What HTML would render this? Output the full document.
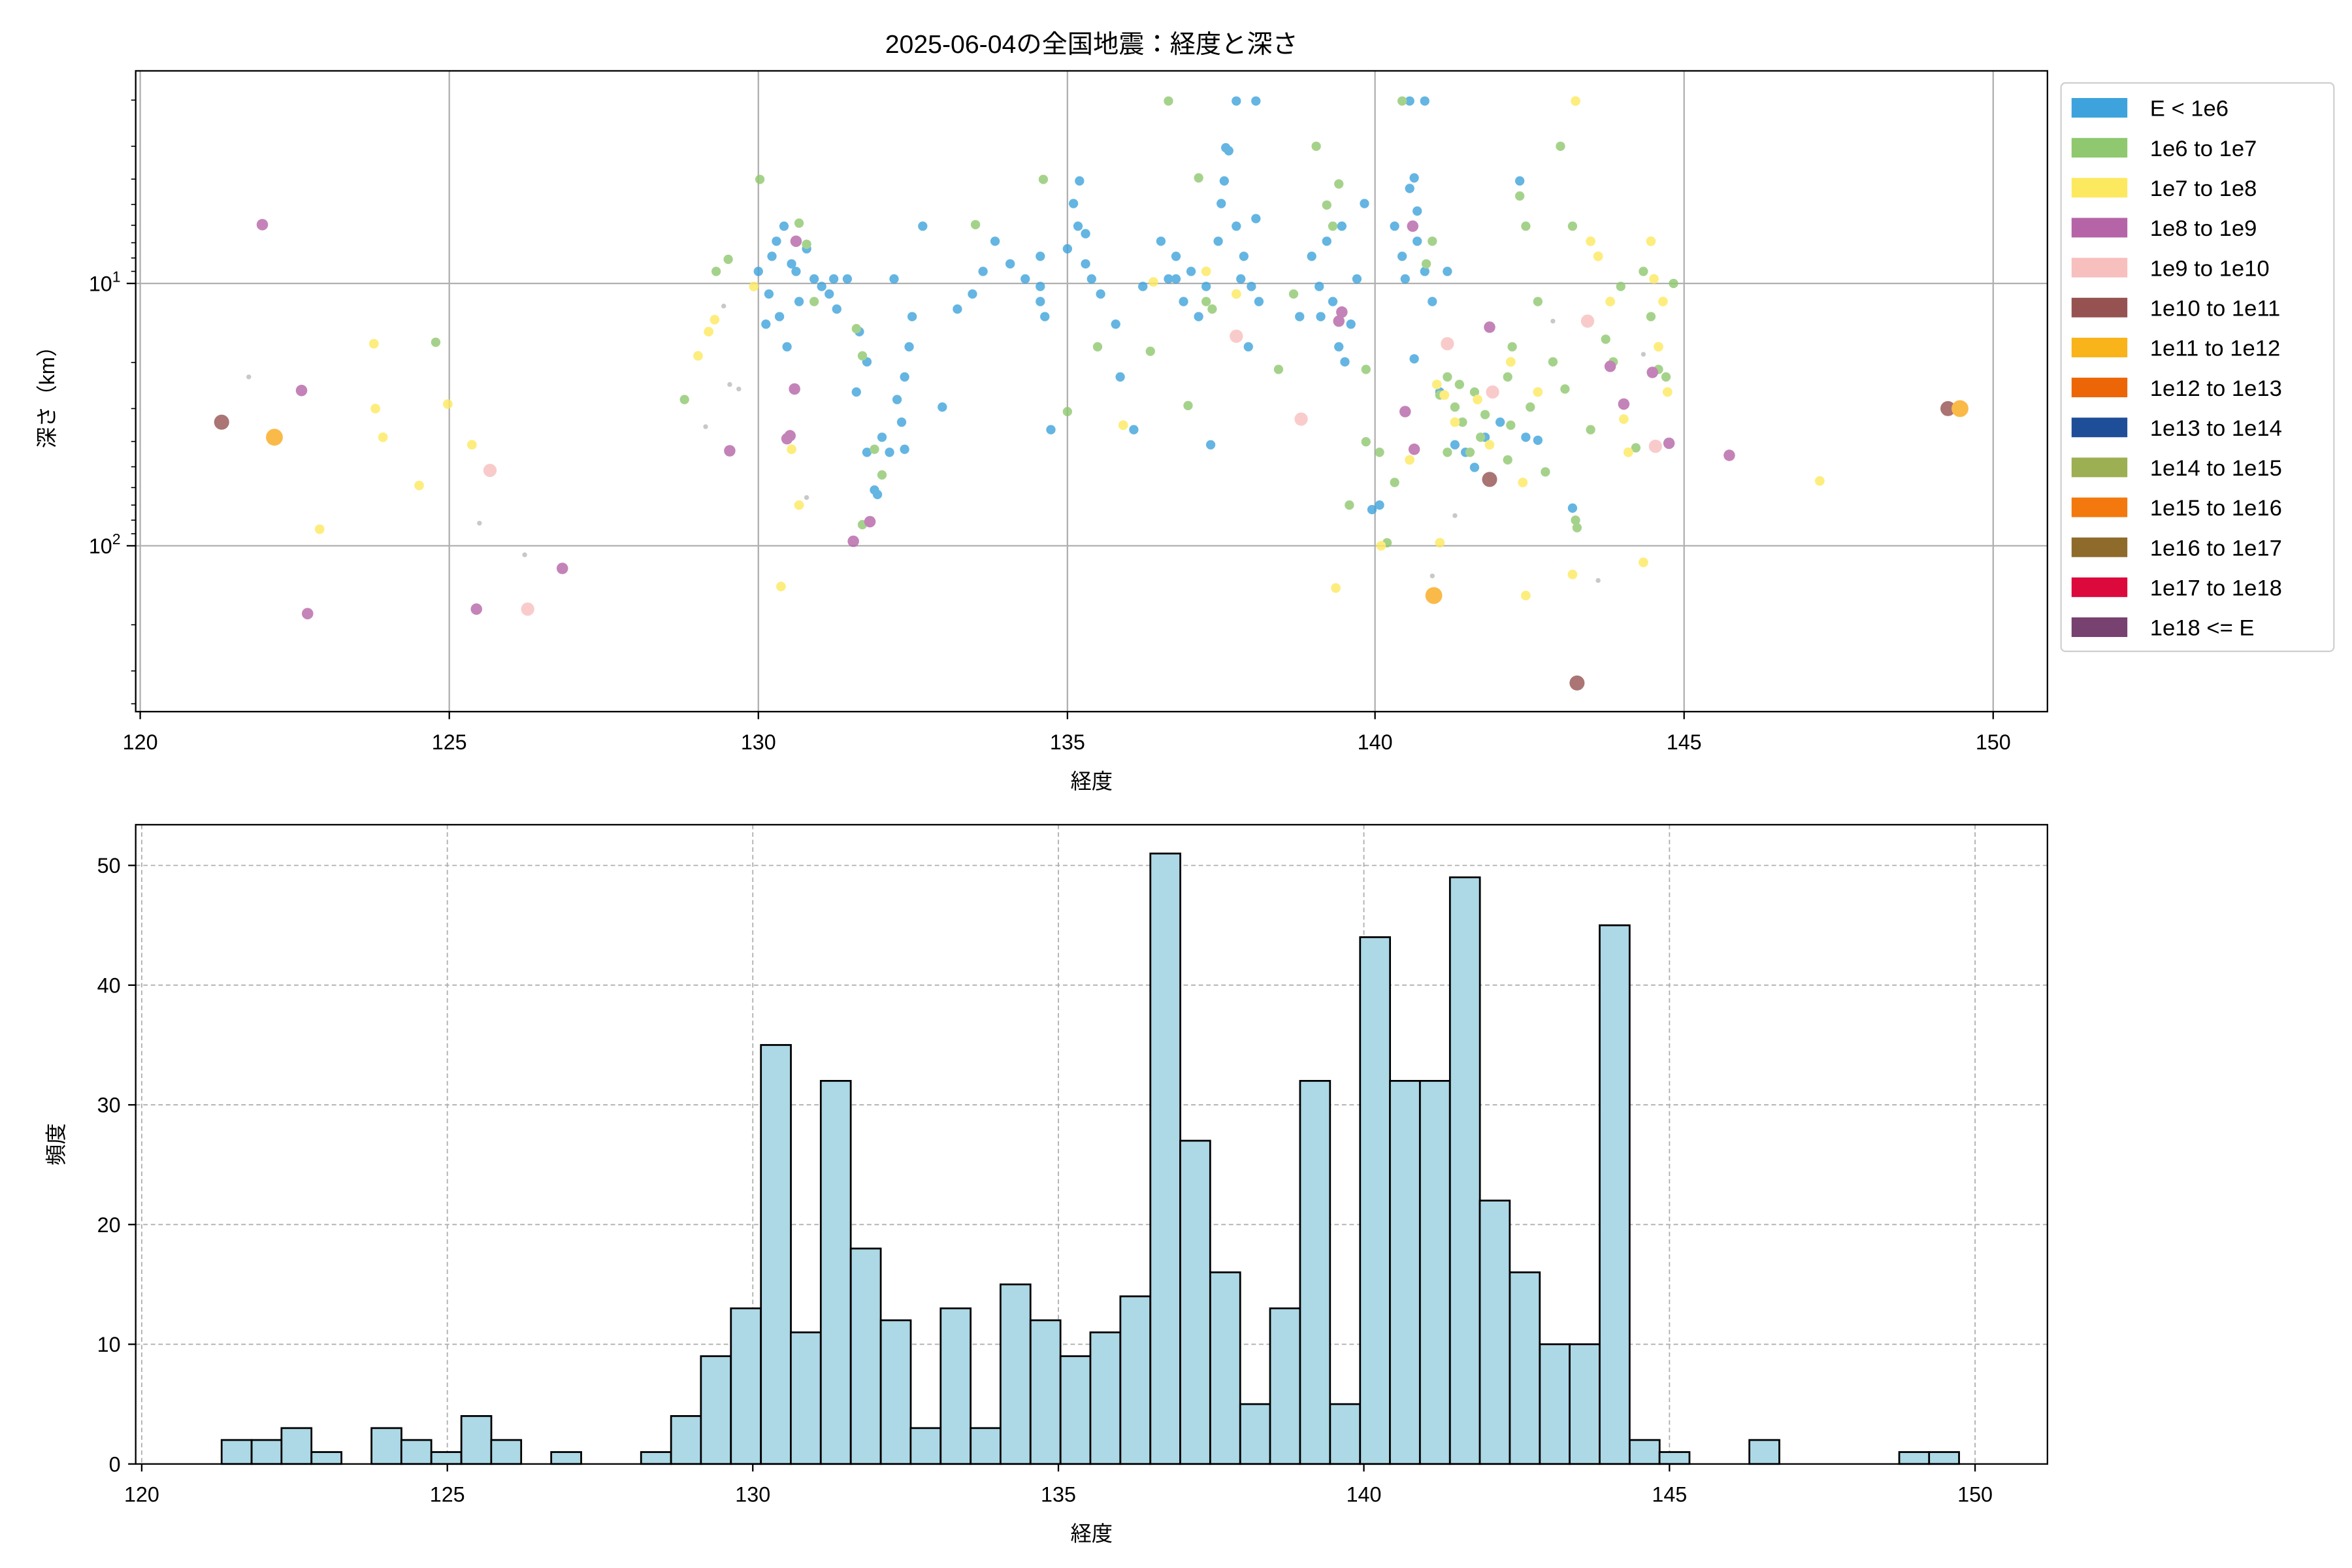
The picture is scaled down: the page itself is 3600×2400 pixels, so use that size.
<!DOCTYPE html>
<html><head><meta charset="utf-8"><style>
html,body{margin:0;padding:0;background:#fff}
svg{display:block}
text{font-family:"Liberation Sans","Noto Sans CJK JP",sans-serif;fill:#000}
</style></head><body>
<svg width="3600" height="2400" viewBox="0 0 1560 1040" xmlns="http://www.w3.org/2000/svg">
<rect width="1560" height="1040" fill="#fff"/>
<text x="724" y="35" font-size="17" text-anchor="middle">2025-06-04の全国地震：経度と深さ</text>
<g stroke="#b0b0b0" stroke-width="1">
<line x1="93" y1="47" x2="93" y2="472"/><line x1="298" y1="47" x2="298" y2="472"/><line x1="503" y1="47" x2="503" y2="472"/><line x1="708" y1="47" x2="708" y2="472"/><line x1="912" y1="47" x2="912" y2="472"/><line x1="1117" y1="47" x2="1117" y2="472"/><line x1="1322" y1="47" x2="1322" y2="472"/>
<line x1="90" y1="188" x2="1358" y2="188"/><line x1="90" y1="362" x2="1358" y2="362"/>
</g>
<g opacity="0.8">
<g fill="#bbbbbb">
<circle cx="165" cy="250" r="1.6"/><circle cx="318" cy="347" r="1.6"/><circle cx="348" cy="368" r="1.6"/><circle cx="484" cy="255" r="1.6"/><circle cx="490" cy="258" r="1.6"/><circle cx="480" cy="203" r="1.6"/><circle cx="535" cy="330" r="1.6"/><circle cx="468" cy="283" r="1.6"/><circle cx="950" cy="382" r="1.6"/><circle cx="965" cy="342" r="1.6"/><circle cx="1060" cy="385" r="1.6"/><circle cx="1030" cy="213" r="1.6"/><circle cx="1090" cy="235" r="1.6"/>
</g>
<g fill="#3ea3dc">
<circle cx="503" cy="180" r="3.1"/><circle cx="510" cy="195" r="3.1"/><circle cx="515" cy="160" r="3.1"/><circle cx="520" cy="150" r="3.1"/><circle cx="525" cy="175" r="3.1"/><circle cx="530" cy="200" r="3.1"/><circle cx="535" cy="165" r="3.1"/><circle cx="540" cy="185" r="3.1"/><circle cx="545" cy="190" r="3.1"/><circle cx="517" cy="210" r="3.1"/><circle cx="508" cy="215" r="3.1"/><circle cx="522" cy="230" r="3.1"/><circle cx="550" cy="195" r="3.1"/><circle cx="555" cy="205" r="3.1"/><circle cx="562" cy="185" r="3.1"/><circle cx="570" cy="220" r="3.1"/><circle cx="568" cy="260" r="3.1"/><circle cx="575" cy="300" r="3.1"/><circle cx="580" cy="325" r="3.1"/><circle cx="585" cy="290" r="3.1"/><circle cx="590" cy="300" r="3.1"/><circle cx="595" cy="265" r="3.1"/><circle cx="600" cy="250" r="3.1"/><circle cx="603" cy="230" r="3.1"/><circle cx="598" cy="280" r="3.1"/><circle cx="593" cy="185" r="3.1"/><circle cx="605" cy="210" r="3.1"/><circle cx="612" cy="150" r="3.1"/><circle cx="625" cy="270" r="3.1"/><circle cx="635" cy="205" r="3.1"/><circle cx="645" cy="195" r="3.1"/><circle cx="652" cy="180" r="3.1"/><circle cx="660" cy="160" r="3.1"/><circle cx="670" cy="175" r="3.1"/><circle cx="680" cy="185" r="3.1"/><circle cx="690" cy="200" r="3.1"/><circle cx="693" cy="210" r="3.1"/><circle cx="697" cy="285" r="3.1"/><circle cx="708" cy="165" r="3.1"/><circle cx="712" cy="135" r="3.1"/><circle cx="716" cy="120" r="3.1"/><circle cx="720" cy="175" r="3.1"/><circle cx="724" cy="185" r="3.1"/><circle cx="730" cy="195" r="3.1"/><circle cx="740" cy="215" r="3.1"/><circle cx="743" cy="250" r="3.1"/><circle cx="752" cy="285" r="3.1"/><circle cx="758" cy="190" r="3.1"/><circle cx="770" cy="160" r="3.1"/><circle cx="775" cy="185" r="3.1"/><circle cx="780" cy="170" r="3.1"/><circle cx="785" cy="200" r="3.1"/><circle cx="790" cy="180" r="3.1"/><circle cx="795" cy="210" r="3.1"/><circle cx="800" cy="190" r="3.1"/><circle cx="803" cy="295" r="3.1"/><circle cx="808" cy="160" r="3.1"/><circle cx="812" cy="120" r="3.1"/><circle cx="815" cy="100" r="3.1"/><circle cx="820" cy="150" r="3.1"/><circle cx="825" cy="170" r="3.1"/><circle cx="830" cy="190" r="3.1"/><circle cx="835" cy="200" r="3.1"/><circle cx="828" cy="230" r="3.1"/><circle cx="833" cy="145" r="3.1"/><circle cx="862" cy="210" r="3.1"/><circle cx="870" cy="170" r="3.1"/><circle cx="875" cy="190" r="3.1"/><circle cx="880" cy="160" r="3.1"/><circle cx="884" cy="200" r="3.1"/><circle cx="888" cy="230" r="3.1"/><circle cx="892" cy="240" r="3.1"/><circle cx="896" cy="215" r="3.1"/><circle cx="900" cy="185" r="3.1"/><circle cx="905" cy="135" r="3.1"/><circle cx="910" cy="338" r="3.1"/><circle cx="915" cy="335" r="3.1"/><circle cx="925" cy="150" r="3.1"/><circle cx="930" cy="170" r="3.1"/><circle cx="935" cy="125" r="3.1"/><circle cx="940" cy="160" r="3.1"/><circle cx="945" cy="180" r="3.1"/><circle cx="950" cy="200" r="3.1"/><circle cx="938" cy="238" r="3.1"/><circle cx="955" cy="260" r="3.1"/><circle cx="965" cy="295" r="3.1"/><circle cx="972" cy="300" r="3.1"/><circle cx="978" cy="310" r="3.1"/><circle cx="985" cy="290" r="3.1"/><circle cx="995" cy="280" r="3.1"/><circle cx="1008" cy="120" r="3.1"/><circle cx="1012" cy="290" r="3.1"/><circle cx="1020" cy="292" r="3.1"/><circle cx="1043" cy="337" r="3.1"/><circle cx="820" cy="67" r="3.1"/><circle cx="833" cy="67" r="3.1"/><circle cx="813" cy="98" r="3.1"/><circle cx="935" cy="67" r="3.1"/><circle cx="945" cy="67" r="3.1"/><circle cx="940" cy="140" r="3.1"/><circle cx="690" cy="170" r="3.1"/><circle cx="720" cy="155" r="3.1"/><circle cx="512" cy="170" r="3.1"/><circle cx="528" cy="180" r="3.1"/><circle cx="553" cy="185" r="3.1"/><circle cx="575" cy="240" r="3.1"/><circle cx="582" cy="328" r="3.1"/><circle cx="600" cy="298" r="3.1"/><circle cx="690" cy="190" r="3.1"/><circle cx="715" cy="150" r="3.1"/><circle cx="780" cy="185" r="3.1"/><circle cx="810" cy="135" r="3.1"/><circle cx="823" cy="185" r="3.1"/><circle cx="876" cy="210" r="3.1"/><circle cx="890" cy="150" r="3.1"/><circle cx="932" cy="185" r="3.1"/><circle cx="938" cy="118" r="3.1"/><circle cx="960" cy="180" r="3.1"/>
</g>
<g fill="#8fc86f">
<circle cx="475" cy="180" r="3.1"/><circle cx="483" cy="172" r="3.1"/><circle cx="504" cy="119" r="3.1"/><circle cx="530" cy="148" r="3.1"/><circle cx="535" cy="162" r="3.1"/><circle cx="540" cy="200" r="3.1"/><circle cx="568" cy="218" r="3.1"/><circle cx="572" cy="236" r="3.1"/><circle cx="580" cy="298" r="3.1"/><circle cx="585" cy="315" r="3.1"/><circle cx="572" cy="348" r="3.1"/><circle cx="647" cy="149" r="3.1"/><circle cx="692" cy="119" r="3.1"/><circle cx="708" cy="273" r="3.1"/><circle cx="728" cy="230" r="3.1"/><circle cx="763" cy="233" r="3.1"/><circle cx="775" cy="67" r="3.1"/><circle cx="788" cy="269" r="3.1"/><circle cx="795" cy="118" r="3.1"/><circle cx="800" cy="200" r="3.1"/><circle cx="804" cy="205" r="3.1"/><circle cx="848" cy="245" r="3.1"/><circle cx="858" cy="195" r="3.1"/><circle cx="873" cy="97" r="3.1"/><circle cx="880" cy="136" r="3.1"/><circle cx="884" cy="150" r="3.1"/><circle cx="888" cy="122" r="3.1"/><circle cx="906" cy="245" r="3.1"/><circle cx="895" cy="335" r="3.1"/><circle cx="906" cy="293" r="3.1"/><circle cx="915" cy="300" r="3.1"/><circle cx="925" cy="320" r="3.1"/><circle cx="930" cy="67" r="3.1"/><circle cx="946" cy="175" r="3.1"/><circle cx="950" cy="160" r="3.1"/><circle cx="955" cy="262" r="3.1"/><circle cx="960" cy="250" r="3.1"/><circle cx="965" cy="270" r="3.1"/><circle cx="960" cy="300" r="3.1"/><circle cx="970" cy="280" r="3.1"/><circle cx="978" cy="260" r="3.1"/><circle cx="982" cy="290" r="3.1"/><circle cx="990" cy="260" r="3.1"/><circle cx="1000" cy="250" r="3.1"/><circle cx="1002" cy="282" r="3.1"/><circle cx="1008" cy="130" r="3.1"/><circle cx="1012" cy="150" r="3.1"/><circle cx="1020" cy="200" r="3.1"/><circle cx="1030" cy="240" r="3.1"/><circle cx="1038" cy="258" r="3.1"/><circle cx="1046" cy="350" r="3.1"/><circle cx="1035" cy="97" r="3.1"/><circle cx="1043" cy="150" r="3.1"/><circle cx="1055" cy="285" r="3.1"/><circle cx="1065" cy="225" r="3.1"/><circle cx="1070" cy="240" r="3.1"/><circle cx="1075" cy="190" r="3.1"/><circle cx="1090" cy="180" r="3.1"/><circle cx="1095" cy="210" r="3.1"/><circle cx="1100" cy="245" r="3.1"/><circle cx="1105" cy="250" r="3.1"/><circle cx="1110" cy="188" r="3.1"/><circle cx="454" cy="265" r="3.1"/><circle cx="289" cy="227" r="3.1"/><circle cx="920" cy="360" r="3.1"/><circle cx="1045" cy="345" r="3.1"/><circle cx="1000" cy="305" r="3.1"/><circle cx="1025" cy="313" r="3.1"/><circle cx="975" cy="300" r="3.1"/><circle cx="1085" cy="297" r="3.1"/><circle cx="985" cy="275" r="3.1"/><circle cx="1003" cy="230" r="3.1"/><circle cx="1015" cy="270" r="3.1"/><circle cx="968" cy="255" r="3.1"/>
</g>
<g fill="#fde95f">
<circle cx="248" cy="228" r="3.2"/><circle cx="249" cy="271" r="3.2"/><circle cx="254" cy="290" r="3.2"/><circle cx="278" cy="322" r="3.2"/><circle cx="297" cy="268" r="3.2"/><circle cx="313" cy="295" r="3.2"/><circle cx="212" cy="351" r="3.2"/><circle cx="463" cy="236" r="3.2"/><circle cx="470" cy="220" r="3.2"/><circle cx="474" cy="212" r="3.2"/><circle cx="500" cy="190" r="3.2"/><circle cx="525" cy="298" r="3.2"/><circle cx="530" cy="335" r="3.2"/><circle cx="518" cy="389" r="3.2"/><circle cx="745" cy="282" r="3.2"/><circle cx="765" cy="187" r="3.2"/><circle cx="800" cy="180" r="3.2"/><circle cx="820" cy="195" r="3.2"/><circle cx="886" cy="390" r="3.2"/><circle cx="916" cy="362" r="3.2"/><circle cx="935" cy="305" r="3.2"/><circle cx="953" cy="255" r="3.2"/><circle cx="958" cy="262" r="3.2"/><circle cx="965" cy="280" r="3.2"/><circle cx="980" cy="265" r="3.2"/><circle cx="988" cy="295" r="3.2"/><circle cx="1002" cy="240" r="3.2"/><circle cx="1012" cy="395" r="3.2"/><circle cx="1045" cy="67" r="3.2"/><circle cx="1043" cy="381" r="3.2"/><circle cx="1055" cy="160" r="3.2"/><circle cx="1060" cy="170" r="3.2"/><circle cx="1068" cy="200" r="3.2"/><circle cx="1077" cy="278" r="3.2"/><circle cx="1080" cy="300" r="3.2"/><circle cx="1090" cy="373" r="3.2"/><circle cx="1095" cy="160" r="3.2"/><circle cx="1097" cy="185" r="3.2"/><circle cx="1100" cy="230" r="3.2"/><circle cx="1106" cy="260" r="3.2"/><circle cx="1103" cy="200" r="3.2"/><circle cx="1207" cy="319" r="3.2"/><circle cx="955" cy="360" r="3.2"/><circle cx="1010" cy="320" r="3.2"/><circle cx="1020" cy="260" r="3.2"/>
</g>
<g fill="#b565a7">
<circle cx="174" cy="149" r="3.8"/><circle cx="200" cy="259" r="3.8"/><circle cx="204" cy="407" r="3.8"/><circle cx="316" cy="404" r="3.8"/><circle cx="373" cy="377" r="3.8"/><circle cx="484" cy="299" r="3.8"/><circle cx="522" cy="291" r="3.8"/><circle cx="524" cy="289" r="3.8"/><circle cx="527" cy="258" r="3.8"/><circle cx="528" cy="160" r="3.8"/><circle cx="566" cy="359" r="3.8"/><circle cx="577" cy="346" r="3.8"/><circle cx="888" cy="213" r="3.8"/><circle cx="890" cy="207" r="3.8"/><circle cx="932" cy="273" r="3.8"/><circle cx="937" cy="150" r="3.8"/><circle cx="938" cy="298" r="3.8"/><circle cx="988" cy="217" r="3.8"/><circle cx="1077" cy="268" r="3.8"/><circle cx="1068" cy="243" r="3.8"/><circle cx="1096" cy="247" r="3.8"/><circle cx="1107" cy="294" r="3.8"/><circle cx="1147" cy="302" r="3.8"/>
</g>
<g fill="#f7bfbe">
<circle cx="325" cy="312" r="4.4"/><circle cx="350" cy="404" r="4.4"/><circle cx="820" cy="223" r="4.4"/><circle cx="863" cy="278" r="4.4"/><circle cx="960" cy="228" r="4.4"/><circle cx="1053" cy="213" r="4.4"/><circle cx="1098" cy="296" r="4.4"/><circle cx="990" cy="260" r="4.4"/>
</g>
<g fill="#955251">
<circle cx="147" cy="280" r="5"/><circle cx="1046" cy="453" r="5"/><circle cx="988" cy="318" r="5"/><circle cx="1292" cy="271" r="5"/>
</g>
<g fill="#f9a91b">
<circle cx="182" cy="290" r="5.6"/><circle cx="951" cy="395" r="5.6"/><circle cx="1300" cy="271" r="5.6"/>
</g>
</g>
<rect x="90" y="47" width="1268" height="425" fill="none" stroke="#000" stroke-width="1"/>
<g stroke="#000" stroke-width="1">
<line x1="93" y1="472" x2="93" y2="477"/><line x1="298" y1="472" x2="298" y2="477"/><line x1="503" y1="472" x2="503" y2="477"/><line x1="708" y1="472" x2="708" y2="477"/><line x1="912" y1="472" x2="912" y2="477"/><line x1="1117" y1="472" x2="1117" y2="477"/><line x1="1322" y1="472" x2="1322" y2="477"/>
<line x1="84" y1="188" x2="90" y2="188"/><line x1="84" y1="362" x2="90" y2="362"/>
<g stroke-width="0.7">
<line x1="87" y1="66.4" x2="90" y2="66.4"/><line x1="87" y1="97" x2="90" y2="97"/><line x1="87" y1="118.8" x2="90" y2="118.8"/><line x1="87" y1="135.6" x2="90" y2="135.6"/><line x1="87" y1="149.4" x2="90" y2="149.4"/><line x1="87" y1="161" x2="90" y2="161"/><line x1="87" y1="171.1" x2="90" y2="171.1"/><line x1="87" y1="180" x2="90" y2="180"/>
<line x1="87" y1="240.4" x2="90" y2="240.4"/><line x1="87" y1="271" x2="90" y2="271"/><line x1="87" y1="292.8" x2="90" y2="292.8"/><line x1="87" y1="309.6" x2="90" y2="309.6"/><line x1="87" y1="323.4" x2="90" y2="323.4"/><line x1="87" y1="335" x2="90" y2="335"/><line x1="87" y1="345" x2="90" y2="345"/><line x1="87" y1="354" x2="90" y2="354"/>
<line x1="87" y1="414.4" x2="90" y2="414.4"/><line x1="87" y1="445" x2="90" y2="445"/><line x1="87" y1="466.8" x2="90" y2="466.8"/>
</g>
</g>
<g font-size="14" text-anchor="middle">
<text x="93" y="497">120</text><text x="298" y="497">125</text><text x="503" y="497">130</text><text x="708" y="497">135</text><text x="912" y="497">140</text><text x="1117" y="497">145</text><text x="1322" y="497">150</text>
</g>
<text x="80" y="193" font-size="14" text-anchor="end">10<tspan font-size="10" dy="-6">1</tspan></text>
<text x="80" y="367" font-size="14" text-anchor="end">10<tspan font-size="10" dy="-6">2</tspan></text>
<text x="724" y="523" font-size="14" text-anchor="middle">経度</text>
<text transform="translate(36,260) rotate(-90)" font-size="14" text-anchor="middle">深さ（km）</text>
<rect x="1367" y="55" width="181" height="377" rx="3" fill="#fff" stroke="#d0d0d0"/>
<g font-size="15">
<rect x="1374" y="65" width="37" height="13" fill="#3ea3dc"/><text x="1426" y="77">E &lt; 1e6</text>
<rect x="1374" y="91.5" width="37" height="13" fill="#8fc86f"/><text x="1426" y="103.5">1e6 to 1e7</text>
<rect x="1374" y="118" width="37" height="13" fill="#fde95f"/><text x="1426" y="130">1e7 to 1e8</text>
<rect x="1374" y="144.5" width="37" height="13" fill="#b565a7"/><text x="1426" y="156.5">1e8 to 1e9</text>
<rect x="1374" y="171" width="37" height="13" fill="#f7bfbe"/><text x="1426" y="183">1e9 to 1e10</text>
<rect x="1374" y="197.5" width="37" height="13" fill="#955251"/><text x="1426" y="209.5">1e10 to 1e11</text>
<rect x="1374" y="224" width="37" height="13" fill="#f9b31b"/><text x="1426" y="236">1e11 to 1e12</text>
<rect x="1374" y="250.5" width="37" height="13" fill="#ec6608"/><text x="1426" y="262.5">1e12 to 1e13</text>
<rect x="1374" y="277" width="37" height="13" fill="#1f4e98"/><text x="1426" y="289">1e13 to 1e14</text>
<rect x="1374" y="303.5" width="37" height="13" fill="#9caf52"/><text x="1426" y="315.5">1e14 to 1e15</text>
<rect x="1374" y="330" width="37" height="13" fill="#f3780e"/><text x="1426" y="342">1e15 to 1e16</text>
<rect x="1374" y="356.5" width="37" height="13" fill="#8e6a2b"/><text x="1426" y="368.5">1e16 to 1e17</text>
<rect x="1374" y="383" width="37" height="13" fill="#dc0a3c"/><text x="1426" y="395">1e17 to 1e18</text>
<rect x="1374" y="409.5" width="37" height="13" fill="#774170"/><text x="1426" y="421.5">1e18 &lt;= E</text>
</g>
<g stroke="#b0b0b0" stroke-width="0.8" stroke-dasharray="3,2">
<line x1="94" y1="547" x2="94" y2="971"/><line x1="296.7" y1="547" x2="296.7" y2="971"/><line x1="499.3" y1="547" x2="499.3" y2="971"/><line x1="702" y1="547" x2="702" y2="971"/><line x1="904.6" y1="547" x2="904.6" y2="971"/><line x1="1107.3" y1="547" x2="1107.3" y2="971"/><line x1="1310" y1="547" x2="1310" y2="971"/>
<line x1="90" y1="891.6" x2="1358" y2="891.6"/><line x1="90" y1="812.2" x2="1358" y2="812.2"/><line x1="90" y1="732.8" x2="1358" y2="732.8"/><line x1="90" y1="653.4" x2="1358" y2="653.4"/><line x1="90" y1="574" x2="1358" y2="574"/>
</g>
<g fill="#add8e6" stroke="#000" stroke-width="1.2">
<rect x="147" y="955.1" width="19.87" height="15.9"/>
<rect x="166.9" y="955.1" width="19.87" height="15.9"/>
<rect x="186.7" y="947.2" width="19.87" height="23.8"/>
<rect x="206.6" y="963.1" width="19.87" height="7.9"/>
<rect x="246.4" y="947.2" width="19.87" height="23.8"/>
<rect x="266.2" y="955.1" width="19.87" height="15.9"/>
<rect x="286.1" y="963.1" width="19.87" height="7.9"/>
<rect x="306" y="939.2" width="19.87" height="31.8"/>
<rect x="325.8" y="955.1" width="19.87" height="15.9"/>
<rect x="365.6" y="963.1" width="19.87" height="7.9"/>
<rect x="425.2" y="963.1" width="19.87" height="7.9"/>
<rect x="445.1" y="939.2" width="19.87" height="31.8"/>
<rect x="464.9" y="899.5" width="19.87" height="71.5"/>
<rect x="484.8" y="867.8" width="19.87" height="103.2"/>
<rect x="504.7" y="693.1" width="19.87" height="277.9"/>
<rect x="524.5" y="883.7" width="19.87" height="87.3"/>
<rect x="544.4" y="716.9" width="19.87" height="254.1"/>
<rect x="564.3" y="828.1" width="19.87" height="142.9"/>
<rect x="584.2" y="875.7" width="19.87" height="95.3"/>
<rect x="604" y="947.2" width="19.87" height="23.8"/>
<rect x="623.9" y="867.8" width="19.87" height="103.2"/>
<rect x="643.8" y="947.2" width="19.87" height="23.8"/>
<rect x="663.6" y="851.9" width="19.87" height="119.1"/>
<rect x="683.5" y="875.7" width="19.87" height="95.3"/>
<rect x="703.4" y="899.5" width="19.87" height="71.5"/>
<rect x="723.2" y="883.7" width="19.87" height="87.3"/>
<rect x="743.1" y="859.8" width="19.87" height="111.2"/>
<rect x="763" y="566.1" width="19.87" height="404.9"/>
<rect x="782.8" y="756.6" width="19.87" height="214.4"/>
<rect x="802.7" y="843.9" width="19.87" height="127.1"/>
<rect x="822.6" y="931.3" width="19.87" height="39.7"/>
<rect x="842.4" y="867.8" width="19.87" height="103.2"/>
<rect x="862.3" y="716.9" width="19.87" height="254.1"/>
<rect x="882.2" y="931.3" width="19.87" height="39.7"/>
<rect x="902.1" y="621.6" width="19.87" height="349.4"/>
<rect x="921.9" y="716.9" width="19.87" height="254.1"/>
<rect x="941.8" y="716.9" width="19.87" height="254.1"/>
<rect x="961.7" y="581.9" width="19.87" height="389.1"/>
<rect x="981.5" y="796.3" width="19.87" height="174.7"/>
<rect x="1001.4" y="843.9" width="19.87" height="127.1"/>
<rect x="1021.3" y="891.6" width="19.87" height="79.4"/>
<rect x="1041.1" y="891.6" width="19.87" height="79.4"/>
<rect x="1061" y="613.7" width="19.87" height="357.3"/>
<rect x="1080.9" y="955.1" width="19.87" height="15.9"/>
<rect x="1100.7" y="963.1" width="19.87" height="7.9"/>
<rect x="1160.3" y="955.1" width="19.87" height="15.9"/>
<rect x="1259.7" y="963.1" width="19.87" height="7.9"/>
<rect x="1279.5" y="963.1" width="19.87" height="7.9"/>
</g>
<rect x="90" y="547" width="1268" height="424" fill="none" stroke="#000" stroke-width="1"/>
<g stroke="#000" stroke-width="1">
<line x1="94" y1="971" x2="94" y2="976"/><line x1="296.7" y1="971" x2="296.7" y2="976"/><line x1="499.3" y1="971" x2="499.3" y2="976"/><line x1="702" y1="971" x2="702" y2="976"/><line x1="904.6" y1="971" x2="904.6" y2="976"/><line x1="1107.3" y1="971" x2="1107.3" y2="976"/><line x1="1310" y1="971" x2="1310" y2="976"/>
<line x1="85" y1="971" x2="90" y2="971"/><line x1="85" y1="891.6" x2="90" y2="891.6"/><line x1="85" y1="812.2" x2="90" y2="812.2"/><line x1="85" y1="732.8" x2="90" y2="732.8"/><line x1="85" y1="653.4" x2="90" y2="653.4"/><line x1="85" y1="574" x2="90" y2="574"/>
</g>
<g font-size="14" text-anchor="middle">
<text x="94" y="996">120</text><text x="296.7" y="996">125</text><text x="499.3" y="996">130</text><text x="702" y="996">135</text><text x="904.6" y="996">140</text><text x="1107.3" y="996">145</text><text x="1310" y="996">150</text>
</g>
<g font-size="14" text-anchor="end">
<text x="80" y="976">0</text><text x="80" y="896.6">10</text><text x="80" y="817.2">20</text><text x="80" y="737.8">30</text><text x="80" y="658.4">40</text><text x="80" y="579">50</text>
</g>
<text x="724" y="1022" font-size="14" text-anchor="middle">経度</text>
<text transform="translate(42,759) rotate(-90)" font-size="14" text-anchor="middle">頻度</text>
</svg>
</body></html>
